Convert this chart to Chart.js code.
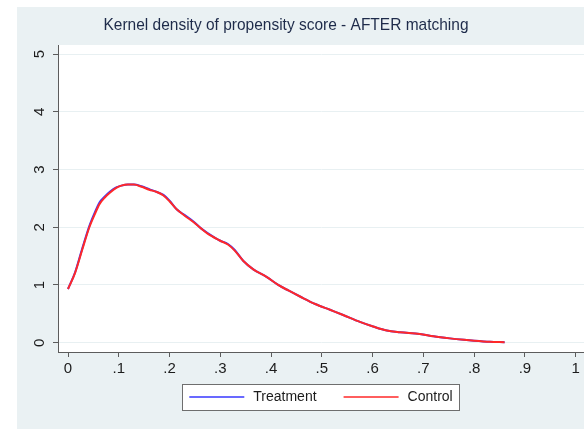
<!DOCTYPE html>
<html>
<head>
<meta charset="utf-8">
<script src="https://cdn.jsdelivr.net/npm/chart.js@4.4.1/dist/chart.umd.min.js"></script>
<style>
    html, body { margin: 0; padding: 0; background: #ffffff; }
    #wrap {
        position: absolute;
        left: 17px;
        top: 7px;
        width: 567px;
        height: 422px;
        background: #eaf1f3;
    }
</style>
</head>
<body>
<div id="wrap"><canvas id="densityChart" width="567" height="422"></canvas></div>
<script>
// propensity score grid (x) and kernel density estimates
const scoreGrid = [0.000, 0.014, 0.028, 0.042, 0.052, 0.062, 0.072, 0.083, 0.095, 0.105,
    0.118, 0.130, 0.145, 0.160, 0.175, 0.188, 0.200, 0.214, 0.230, 0.247,
    0.262, 0.275, 0.299, 0.315, 0.328, 0.345, 0.365, 0.391, 0.414, 0.435,
    0.457, 0.487, 0.516, 0.542, 0.575, 0.601, 0.628, 0.654, 0.693, 0.720,
    0.752, 0.780, 0.800, 0.831, 0.860];
const treatmentDensity = [0.93, 1.22, 1.63, 2.02, 2.24, 2.43, 2.53, 2.62, 2.69, 2.72,
    2.74, 2.74, 2.71, 2.66, 2.61, 2.56, 2.46, 2.31, 2.21, 2.10,
    1.98, 1.90, 1.77, 1.71, 1.61, 1.42, 1.27, 1.14, 1.00, 0.90,
    0.80, 0.67, 0.57, 0.48, 0.36, 0.28, 0.21, 0.18, 0.15, 0.11,
    0.075, 0.05, 0.035, 0.017, 0.01];
const controlDensity = [0.93, 1.21, 1.61, 2.00, 2.21, 2.40, 2.51, 2.60, 2.68, 2.72,
    2.74, 2.74, 2.70, 2.65, 2.61, 2.55, 2.45, 2.31, 2.20, 2.09,
    1.98, 1.89, 1.77, 1.70, 1.60, 1.42, 1.27, 1.14, 1.00, 0.90,
    0.80, 0.67, 0.57, 0.48, 0.36, 0.28, 0.21, 0.18, 0.15, 0.11,
    0.075, 0.05, 0.035, 0.017, 0.01];
const xTicks = [0, 0.1, 0.2, 0.3, 0.4, 0.5, 0.6, 0.7, 0.8, 0.9, 1];
const yTicks = [0, 1, 2, 3, 4, 5];
const seriesLabels = ['Treatment', 'Control'];
const chartTitle = 'Kernel density of propensity score - AFTER matching';

const FONT = '"Liberation Sans", Arial, sans-serif';
const AXIS_COLOR = '#5c5c5c';
const TEXT_COLOR = '#1c1c1c';

function fmtScore(v) {
    if (v === 0) return '0';
    if (v === 1) return '1';
    return v.toFixed(1).replace(/^0/, '');
}

function toPoints(ys) {
    return scoreGrid.map((x, i) => ({ x: x, y: ys[i] }));
}

// white plot region on the grey graph region
const plotBackground = {
    id: 'plotBackground',
    beforeDraw(chart) {
        const { ctx, chartArea } = chart;
        ctx.save();
        ctx.fillStyle = '#ffffff';
        ctx.fillRect(chartArea.left, chartArea.top, chartArea.right - chartArea.left, chartArea.bottom - chartArea.top);
        ctx.restore();
    }
};

// title: the exported graph is a bit narrower than tall, so squeeze it horizontally
const squeezedTitle = {
    id: 'squeezedTitle',
    afterDraw(chart) {
        const { ctx } = chart;
        ctx.save();
        ctx.font = '17px ' + FONT;
        const w = ctx.measureText(chartTitle).width;
        const sx = 365 / w;
        ctx.translate(269, 18);
        ctx.scale(sx, 1);
        ctx.fillStyle = '#1e2b4a';
        ctx.textAlign = 'center';
        ctx.textBaseline = 'middle';
        ctx.fillText(chartTitle, 0, 0);
        ctx.restore();
    }
};

// vertical y tick labels, Stata style
const yLabels = {
    id: 'yLabels',
    afterDraw(chart) {
        const { ctx } = chart;
        const y = chart.scales.y;
        ctx.save();
        ctx.font = '15px ' + FONT;
        ctx.fillStyle = TEXT_COLOR;
        ctx.textAlign = 'center';
        ctx.textBaseline = 'middle';
        yTicks.forEach(v => {
            ctx.save();
            ctx.translate(23, y.getPixelForValue(v));
            ctx.rotate(-Math.PI / 2);
            ctx.fillText(String(v), 0, 0);
            ctx.restore();
        });
        ctx.restore();
    }
};

// boxed legend under the x axis
const boxedLegend = {
    id: 'boxedLegend',
    afterDraw(chart) {
        const { ctx } = chart;
        const lineLen = 55, gapText = 9, gapItem = 27, padX = 7;
        const cy = 390, boxTop = 377, boxH = 26;
        ctx.save();
        ctx.font = '14px ' + FONT;
        const items = chart.data.datasets.map(ds => ({
            label: ds.label, color: ds.borderColor, w: ctx.measureText(ds.label).width
        }));
        let total = padX * 2;
        items.forEach((it, i) => { total += lineLen + gapText + it.w + (i ? gapItem : 0); });
        const centerX = 304;
        let x = centerX - total / 2;
        ctx.fillStyle = '#ffffff';
        ctx.fillRect(x, boxTop, total, boxH);
        ctx.strokeStyle = '#6e6e6e';
        ctx.lineWidth = 1;
        ctx.strokeRect(Math.round(x) + 0.5, boxTop + 0.5, Math.round(total), boxH);
        x += padX;
        items.forEach((it, i) => {
            if (i) x += gapItem;
            ctx.strokeStyle = it.color;
            ctx.lineWidth = 1.5;
            ctx.beginPath();
            ctx.moveTo(x, cy);
            ctx.lineTo(x + lineLen, cy);
            ctx.stroke();
            x += lineLen + gapText;
            ctx.fillStyle = TEXT_COLOR;
            ctx.textBaseline = 'middle';
            ctx.fillText(it.label, x, cy);
            x += it.w;
        });
        ctx.restore();
    }
};

new Chart(document.getElementById('densityChart'), {
    type: 'line',
    data: {
        datasets: [
            {
                label: seriesLabels[0],
                data: toPoints(treatmentDensity),
                borderColor: 'rgb(55, 55, 255)',
                borderWidth: 2,
                pointRadius: 0,
                cubicInterpolationMode: 'monotone',
                order: 1
            },
            {
                label: seriesLabels[1],
                data: toPoints(controlDensity),
                borderColor: 'rgb(255, 40, 40)',
                borderWidth: 2,
                pointRadius: 0,
                cubicInterpolationMode: 'monotone',
                order: 0
            }
        ]
    },
    options: {
        responsive: false,
        animation: false,
        layout: { padding: { left: 0, right: 0, top: 38, bottom: 47 } },
        scales: {
            x: {
                type: 'linear',
                min: -0.0197,
                max: 1.0164,
                afterBuildTicks: scale => { scale.ticks = xTicks.map(v => ({ value: v })); },
                afterFit: scale => { scale.height = 30; },
                grid: { drawOnChartArea: false, drawTicks: true, tickLength: 5, tickColor: AXIS_COLOR },
                border: { color: AXIS_COLOR, width: 1 },
                ticks: {
                    padding: 3,
                    color: TEXT_COLOR,
                    font: { family: FONT, size: 15 },
                    maxRotation: 0,
                    autoSkip: false,
                    callback: v => fmtScore(v)
                }
            },
            y: {
                type: 'linear',
                min: -0.161,
                max: 5.156,
                afterBuildTicks: scale => { scale.ticks = yTicks.map(v => ({ value: v })); },
                afterFit: scale => { scale.width = 41; },
                grid: { color: '#e8f0f2', lineWidth: 1, drawTicks: true, tickLength: 5, tickColor: AXIS_COLOR },
                border: { color: AXIS_COLOR, width: 1 },
                ticks: { display: false }
            }
        },
        plugins: {
            legend: { display: false },
            tooltip: { enabled: false },
            title: { display: false }
        }
    },
    plugins: [plotBackground, squeezedTitle, yLabels, boxedLegend]
});
</script>
</body>
</html>
